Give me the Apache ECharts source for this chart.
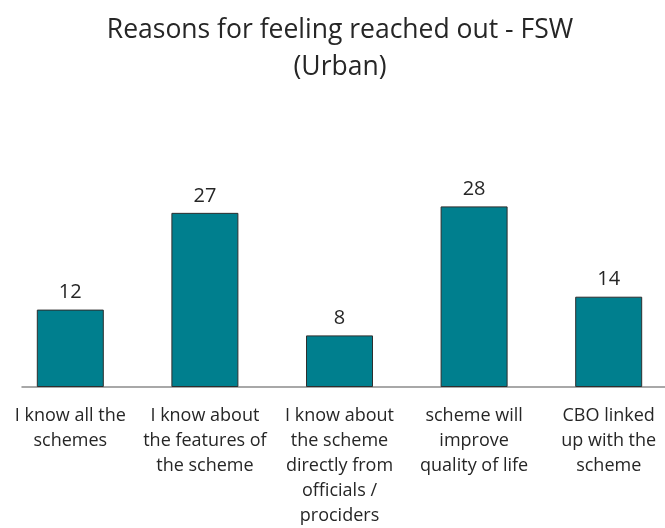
<!DOCTYPE html>
<html>
<head>
<meta charset="utf-8">
<style>
  html, body { margin: 0; padding: 0; background: #ffffff; overflow: hidden; }
  #chart { width: 680px; height: 528px; }
</style>
<script src="https://cdn.jsdelivr.net/npm/echarts@6/dist/echarts.min.js"></script>
</head>
<body>
<div id="chart"></div>
<script>
// Reasons given by urban FSW respondents for feeling reached out
const categories = [
  'I know all the\nschemes',
  'I know about\nthe features of\nthe scheme',
  'I know about\nthe scheme\ndirectly from\nofficials /\nprociders',
  'scheme will\nimprove\nquality of life',
  'CBO linked\nup with the\nscheme'
];
const counts = [12, 27, 8, 28, 14];

const FONT = '"Open Sans", Lato, sans-serif';
const TEXT = '#262626';

const chart = echarts.init(document.getElementById('chart'));
chart.setOption({
  animation: false,
  backgroundColor: '#ffffff',
  title: {
    text: 'Reasons for feeling reached out - FSW\n(Urban)',
    left: 'center',
    top: 7,
    textStyle: {
      fontFamily: FONT,
      fontSize: 26.5,
      fontWeight: 'normal',
      color: TEXT,
      lineHeight: 37
    }
  },
  grid: [
    { left: 3, width: 673, bottom: 141, height: 258 },
    { left: 22, right: 0, bottom: 141, height: 258 }
  ],
  xAxis: [
    {
      type: 'category',
      gridIndex: 0,
      data: categories,
      axisLine: { show: false },
      axisTick: { show: false },
      axisLabel: {
        fontFamily: FONT,
        fontSize: 18,
        color: TEXT,
        lineHeight: 25,
        margin: 16,
        interval: 0,
        align: 'center'
      }
    },
    {
      // baseline drawn across the plot area
      type: 'value',
      gridIndex: 1,
      min: 0,
      max: 1,
      axisLine: { show: true, lineStyle: { color: '#8c8c8c', width: 1.5 } },
      axisTick: { show: false },
      axisLabel: { show: false },
      splitLine: { show: false }
    }
  ],
  yAxis: [
    { type: 'value', gridIndex: 0, min: 0, max: 40, show: false },
    { type: 'value', gridIndex: 1, min: 0, max: 1, show: false }
  ],
  series: [{
    type: 'bar',
    xAxisIndex: 0,
    yAxisIndex: 0,
    data: counts,
    barWidth: 67,
    itemStyle: {
      color: '#007f8e',
      borderColor: '#2e2e2e',
      borderWidth: 1
    },
    label: {
      show: true,
      position: 'top',
      distance: 7,
      fontFamily: FONT,
      fontSize: 20,
      color: TEXT
    }
  }]
});
</script>
</body>
</html>
